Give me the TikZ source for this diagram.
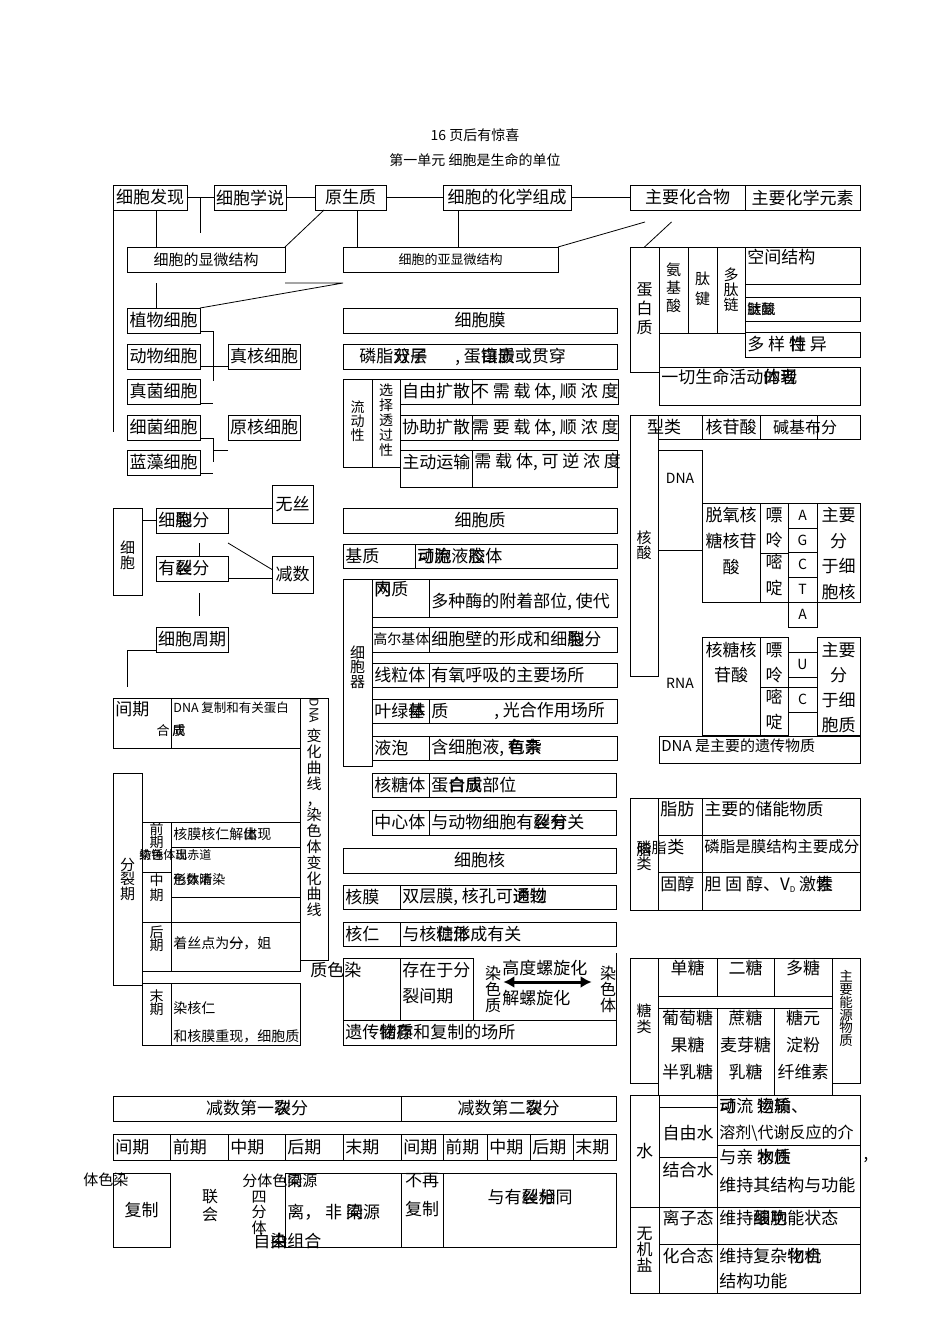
\documentclass[tikz,border=0pt]{standalone}
\usepackage{fontspec}
\setmainfont{Noto Sans CJK SC}
\usetikzlibrary{arrows.meta}
\newcommand\fsz[2]{\fontsize{#1}{#2}\selectfont}
\tikzset{
  box/.style 2 args={draw, line width=0.8pt, anchor=north west, minimum width=#1, minimum height=#2, inner sep=0pt, outer sep=0pt},
  txt/.style={inner sep=0pt, anchor=west},
  vstk/.style={inner sep=0pt, align=center},
}
\begin{document}
\begin{tikzpicture}
	[x=1pt, y=-1pt, font=\fsz{17}{20}, line width=0.8pt]
	\useasboundingbox (0,0) rectangle (950,1344);
	% title
	\node[font=\fsz{14}{14}] (ttl1) at (475,135) {16 页后有惊喜};
	\node[font=\fsz{14}{14}] (ttl2) at (475,160) {第一单元 细胞是生命的单位};
	% top row
	\node[box={74}{25}] (fxian) at (113,185) {细胞发现};
	\node[box={72}{25}] (xshuo) at (214,185) {细胞学说};
	\node[box={71}{25}] (ysz) at (315,185) {原生质};
	\node[box={128}{25}] (hxzc) at (443,185) {细胞的化学组成};
	\node[box={115}{25}] (zyhhw) at (630,185) {主要化合物};
	\node[box={115}{25}] (zyys) at (745,185) {主要化学元素};
	\draw (fxian.east) -- (xshuo.west);
	\draw (xshuo.east) -- (ysz.west);
	\draw (ysz.east) -- (hxzc.west);
	\draw (hxzc.east) -- (zyhhw.west);
	\draw (fxian.south west) -- ++(0,222);
	\draw ([xshift=-14pt]xshuo.west) -- ++(0,35);
	\node[box={158}{25}, font=\fsz{15}{15}] (xwjg) at (127,247) {细胞的显微结构};
	\node[box={215}{25}, font=\fsz{13}{13}] (yxwjg) at (343,247) {细胞的亚显微结构};
	\draw ([xshift=29pt]xwjg.north west) -- ([xshift=29pt]xwjg.north west |- fxian.south);
	\draw ([xshift=9pt]ysz.south west) -- (xwjg.north east);
	\draw ([xshift=14pt]yxwjg.north west) -- ([xshift=14pt]yxwjg.north west |- ysz.south);
	\draw ([xshift=15pt]hxzc.south west) -- ([xshift=15pt]hxzc.south west |- yxwjg.north);
	\draw (yxwjg.north east) -- ++(87,-25);
	% cells
	\node[box={73}{25}] (zwxb) at (127,308) {植物细胞};
	\node[box={73}{25}] (dwxb) at (127,344) {动物细胞};
	\node[box={73}{25}] (zjxb) at (127,379) {真菌细胞};
	\node[box={73}{25}] (xjxb) at (127,415) {细菌细胞};
	\node[box={73}{25}] (lzxb) at (127,450) {蓝藻细胞};
	\node[box={72}{25}] (zhxb) at (228,344) {真核细胞};
	\node[box={72}{25}] (yhxb) at (228,415) {原核细胞};
	\draw (xwjg.south east) ++(0,11) -- ++(58,0) -- (zwxb.north east);
	\draw ([xshift=29pt]zwxb.north west) -- ++(0,-25);
	\draw ([yshift=2pt]zwxb.south east) -- ++(13,0) -- ++(0,50);
	\draw ([yshift=3pt]zhxb.south west) -- ([yshift=3pt]zhxb.south west -| dwxb.east);
	\draw ([yshift=1pt]zjxb.south east) -- ++(13,0);
	\draw ([yshift=2pt]xjxb.south east) -- ++(13,0) -- ++(0,24);
	\draw ([yshift=-10pt]yhxb.south west) -- ++(-15,0);
	\draw ([yshift=2pt]lzxb.south east) -- ++(13,0);
	% cell membrane
	\node[box={274}{25}] (xbm) at (343,308) {细胞膜};
	\node[box={274}{25}] (lzsc) at (343,344) {};
	\node[txt] (lzsc-a) at (359,356.5) {磷脂\rlap{双}分\rlap{子}层};
	\node[txt] (lzsc-b) at (455,356.5) {, 蛋\rlap{白}镶\rlap{质}嵌或贯穿};
	\node[box={29}{88}] (ldx) at (343,379) {};
	\node[vstk, font=\fsz{14}{14}] (ldx-t) at (357.5,421.5) {流\\动\\性};
	\node[box={28}{88}] (xztg) at (372,379) {};
	\node[vstk, font=\fsz{14}{15}] (xztg-t) at (386,420) {选\\择\\透\\过\\性};
	\node[box={72}{25}] (zykz) at (400,379) {自由扩散};
	\node[box={145}{25}] (zykzd) at (472,379) {不 需 载 体, 顺 浓 度};
	\node[box={72}{25}] (xzkz) at (400,415) {协助扩散};
	\node[box={145}{25}] (xzkzd) at (472,415) {需 要 载 体, 顺 浓 度};
	\node[box={72}{37}] (zdys) at (400,450) {};
	\node[txt] (zdys-t) at (402,462) {主动运输};
	\node[box={145}{37}] (zdysd) at (472,450) {};
	\node[txt] (zdysd-t) at (474,462) {需 载 体, 可 逆 浓 度};
	% protein
	\node[box={29}{125}] (dbz) at (630,247) {};
	\draw (dbz.north) -- ++(27,-25);
	\node[vstk, font=\fsz{16}{19}] (dbz-t) at (644.5,309) {蛋\\白\\质};
	\node[box={29}{86}] (ajs) at (659,247) {};
	\node[vstk, font=\fsz{15}{18}] (ajs-t) at (673.5,288) {氨\\基\\酸};
	\node[box={29}{86}] (tj) at (688,247) {};
	\node[vstk, font=\fsz{15}{20}] (tj-t) at (702.5,289) {肽\\键};
	\node[box={28}{86}] (dtl) at (717,247) {};
	\node[vstk, font=\fsz{15}{15}] (dtl-t) at (731,290) {多\\肽\\链};
	\node[box={115}{37}] (kjjg) at (745,247) {};
	\node[txt] (kjjg-t) at (747,257) {空间结构};
	\node[box={115}{24}] (jgb) at (745,297) {};
	\node[txt, font=\fsz{14}{14}] (jgb-t) at (747,309) {\rlap{链}肽\rlap{氨}酸};
	\node[box={115}{25}] (dyx) at (745,332) {};
	\node[txt] (dyx-t) at (747,344.5) {多 样 \rlap{性}特 异};
	\node[box={201}{38}] (yqsm) at (659,367) {};
	\node[txt] (yqsm-t) at (661,377) {一切生命活动\rlap{的}体\rlap{现}者};
	% nucleic acid
	\node[box={28}{261}] (hs) at (630,415) {};
	\node[vstk, font=\fsz{15}{15}] (hs-t) at (644,545) {核\\酸};
	\node[box={44}{24}] (lx) at (658,415) {};
	\node (lx-t) at (664,427) {型类};
	\node[box={58}{24}] (hgs) at (702,415) {核苷酸};
	\node[box={57}{24}] (jj) at (760,415) {};
	\node[box={43}{24}] (fb) at (817,415) {};
	\node[font=\fsz{16}{16}] (jj-t) at (805,427) {碱基布分};
	\node[box={44}{100}] (dna) at (658,450) {};
	\node[font=\fsz{14}{14}] (dna-t) at (680,478) {DNA};
	\node[box={58}{99}] (tyhgs) at (702,503) {};
	\node[vstk, font=\fsz{17}{26}] (tyhgs-t) at (731,541) {脱氧核\\糖核苷\\酸};
	\node[box={28}{50}] (pl1) at (760,503) {};
	\node[vstk, font=\fsz{17}{25}] (pl1-t) at (774,527.5) {嘌\\呤};
	\node[box={28}{49}] (md1) at (760,553) {};
	\node[vstk, font=\fsz{17}{26}] (md1-t) at (774,575) {嘧\\啶};
	\node[box={29}{25}, font=\fsz{14}{14}] (ba1) at (788,503) {A};
	\node[box={29}{24}, font=\fsz{14}{14}] (bg1) at (788,528) {G};
	\node[box={29}{25}, font=\fsz{14}{14}] (bc1) at (788,552) {C};
	\node[box={29}{25}, font=\fsz{14}{14}] (bt1) at (788,577) {T};
	\node[box={29}{25}, font=\fsz{14}{14}] (ba2) at (788,602) {A};
	\node[box={43}{99}] (fbh) at (817,503) {};
	\node[vstk, font=\fsz{17}{25.7}] (fbh-t) at (838.5,553.5) {主要\\分\\于细\\胞核};
	\node[font=\fsz{14}{14}] (rna-t) at (680,683) {RNA};
	\node[box={58}{98}] (htgs) at (702,637) {};
	\node[vstk, font=\fsz{17}{25}] (htgs-t) at (731,662.5) {核糖核\\苷酸};
	\node[box={28}{50}] (pl2) at (760,637) {};
	\node[vstk, font=\fsz{17}{25}] (pl2-t) at (774,662.5) {嘌\\呤};
	\node[box={28}{48}] (md2) at (760,687) {};
	\node[vstk, font=\fsz{17}{25}] (md2-t) at (774,709.5) {嘧\\啶};
	\node[box={29}{25}, font=\fsz{14}{14}] (bu) at (788,652) {U};
	\node[box={29}{25}, font=\fsz{14}{14}] (bc2) at (788,687) {C};
	\node[box={43}{98}] (fbz) at (817,637) {};
	\node[vstk, font=\fsz{17}{25}] (fbz-t) at (838.5,687.5) {主要\\分\\于细\\胞质};
	\node[box={201}{27}] (ycwz) at (659,736) {};
	\node[txt, font=\fsz{15}{15}] (ycwz-t) at (661,746) {DNA 是主要的遗传物质};
	% cell division
	\node[box={29}{87}] (xb) at (113,508) {};
	\node[vstk, font=\fsz{15}{15}] (xb-t) at (127.5,555) {细\\胞};
	\node[box={72}{25}] (xbfl) at (156,508) {};
	\node[txt] (xbfl-t) at (158,520.5) {细\rlap{裂}胞分};
	\node[box={41}{38}] (wusi) at (272,485) {无丝};
	\node[box={72}{25}] (ysfl) at (156,556) {};
	\node[txt] (ysfl-t) at (158,568.5) {有\rlap{裂}丝分};
	\node[box={41}{37}] (jianshu) at (272,556) {减数};
	\node[box={72}{25}] (xbzq) at (156,627) {细胞周期};
	\draw (xbfl.west) -- (xbfl.west -| xb.east);
	\draw (xbfl.north east) -- (xbfl.north east -| wusi.west);
	\draw ([yshift=-10pt]xbfl.south east) -- ([yshift=5pt]jianshu.west);
	\draw ([xshift=43pt]ysfl.north west) -- ++(0,-13);
	\draw ([yshift=3pt]ysfl.south east) -- ([yshift=3pt]ysfl.south east -| jianshu.west);
	\draw ([xshift=43pt,yshift=-12pt]ysfl.south west) -- ++(0,23);
	\draw ([yshift=2pt]xbzq.south west) -| ++(-29,37);
	% cell cycle table
	\node[box={58}{50}] (jq) at (113,698) {};
	\node[txt] (jq-t) at (115,709) {间期};
	\node[txt, anchor=east, font=\fsz{13}{13}] (jq-h) at (170,731) {合};
	\node[box={129}{50}] (jqd) at (171,698) {};
	\node[txt, font=\fsz{12.5}{13}] (jqd-t) at (173,708) {DNA 复制和有关蛋白};
	\node[txt, font=\fsz{13}{13}] (jqd-c) at (172,731) {\rlap{质}成};
	\node[box={28}{262}] (qx) at (300,698) {};
	\node[rotate=-90, font=\fsz{12}{12}, inner sep=0pt] (qx-dna) at (314,711) {DNA};
	\node[vstk, font=\fsz{15}{15.8}] (qx-t) at (314,823) {变\\化\\曲\\线\\，\\染\\色\\体\\变\\化\\曲\\线};
	\node[box={29}{212}] (flq) at (113,773) {};
	\node[vstk, font=\fsz{15}{14.5}] (flq-t) at (127.5,879) {分\\裂\\期};
	\node[box={29}{50}] (qianq) at (142,822) {};
	\node[vstk, font=\fsz{14}{13}] (qianq-t) at (156.5,836) {前\\期};
	\node[box={129}{25}] (r1) at (171,822) {};
	\node[txt, font=\fsz{14}{14}] (r1-t) at (173,834) {核膜核仁解\rlap{体}出现};
	\node[box={129}{50}] (r2) at (171,847) {};
	\node[txt, font=\fsz{12}{12}] (r2-a) at (139,855) {\rlap{纺锤}染色体\rlap{出}现赤道};
	\node[txt, font=\fsz{13}{13}] (r2-b) at (173,880) {\rlap{形}色\rlap{数}体\rlap{晰}清染};
	\node[box={29}{50}] (zhongq) at (142,872) {};
	\node[vstk, font=\fsz{14}{15}] (zhongq-t) at (156.5,887.5) {中\\期};
	\node[box={129}{25}] (r3) at (171,897) {};
	\node[box={29}{49}] (houq) at (142,922) {};
	\node[vstk, font=\fsz{14}{13}] (houq-t) at (156.5,938.5) {后\\期};
	\node[box={129}{49}] (r4) at (171,922) {};
	\node[txt, font=\fsz{14}{14}] (r4-t) at (173,943) {着丝点为\rlap{一}分，姐};
	\node[box={29}{62}] (moq) at (142,983) {};
	\node[vstk, font=\fsz{14}{13}] (moq-t) at (156.5,1002.5) {末\\期};
	\node[box={129}{62}] (r5) at (171,983) {};
	\node[txt, font=\fsz{14}{14}] (r5-a) at (173,1008) {染核仁};
	\node[txt, font=\fsz{14}{14}] (r5-b) at (173,1036) {和核膜重现，细胞质};
	% cytoplasm
	\node[box={274}{25}] (xbzhi) at (343,508) {细胞质};
	\node[box={72}{24}] (jz) at (343,544) {};
	\node[txt] (jz-t) at (345,556) {基质};
	\node[box={202}{24}] (jzd) at (415,544) {};
	\node[txt] (jzd-t) at (417,556) {\rlap{可}动\rlap{流}胞液\rlap{胶}态体};
	\node[box={29}{187}] (xbq) at (343,579) {};
	\node[vstk, font=\fsz{15}{14.5}] (xbq-t) at (357.5,667) {细\\胞\\器};
	\node[box={57}{38}] (nzw) at (372,579) {};
	\node[txt] (nzw-t) at (374,589) {\rlap{内}网质};
	\node[box={188}{38}] (nzwd) at (429,579) {};
	\node[txt] (nzwd-t) at (431,602) {多种酶的附着部位, 使代};
	\node[box={57}{25}] (gej) at (372,627) {};
	\node[txt, font=\fsz{14}{14}] (gej-t) at (373,639.5) {高尔基体};
	\node[box={188}{25}] (gejd) at (429,627) {};
	\node[txt] (gejd-t) at (431,639.5) {细胞壁的形成和细\rlap{裂}胞分};
	\node[box={57}{24}] (xlt) at (372,663) {};
	\node[txt] (xlt-t) at (374,675) {线粒体};
	\node[box={188}{24}] (xltd) at (429,663) {};
	\node[txt] (xltd-t) at (431,675) {有氧呼吸的主要场所};
	\node[box={57}{24}] (ylt) at (372,699) {};
	\node[txt] (ylt-t) at (374,711) {叶绿\rlap{体}基};
	\node[box={188}{24}] (yltd) at (429,699) {};
	\node[txt] (yltd-a) at (431,711) {质};
	\node[txt] (yltd-b) at (494,711) {, 光合作用场所};
	\node[box={57}{24}] (yp) at (372,736) {};
	\node[txt] (yp-t) at (374,748) {液泡};
	\node[box={188}{24}] (ypd) at (429,736) {};
	\node[txt] (ypd-t) at (431,748) {含细胞液, \rlap{有}色\rlap{素}杂};
	\node[box={57}{24}] (hrt) at (372,773) {};
	\node[txt] (hrt-t) at (374,785) {核糖体};
	\node[box={187}{24}] (hrtd) at (429,773) {};
	\node[txt] (hrtd-t) at (431,785) {蛋\rlap{白}合\rlap{质}成部位};
	\node[box={57}{25}] (zxt) at (372,810) {};
	\node[txt] (zxt-t) at (374,822.5) {中心体};
	\node[box={187}{25}] (zxtd) at (429,810) {};
	\node[txt] (zxtd-t) at (431,822.5) {与动物细胞有\rlap{丝}裂\rlap{分}有关};
	% nucleus
	\node[box={273}{25}] (xbhe) at (343,848) {细胞核};
	\node[box={57}{24}] (hm) at (343,885) {};
	\node[txt] (hm-t) at (345,897) {核膜};
	\node[box={216}{24}] (hmd) at (400,885) {};
	\node[txt] (hmd-t) at (402,897) {双层膜, 核孔可\rlap{通}透\rlap{物}过};
	\node[box={57}{24}] (hr) at (343,922) {};
	\node[txt] (hr-t) at (345,934) {核仁};
	\node[box={216}{24}] (hrd) at (400,922) {};
	\node[txt] (hrd-t) at (402,934) {与核\rlap{仁}糖\rlap{体}形成有关};
	\node[box={57}{62}] (rsz) at (343,958) {};
	\node[txt] (rsz-t) at (344,970) {\llap{质色}染};
	\node[box={73}{62}] (czy) at (400,958) {};
	\node[txt] (czy-a) at (402,970) {存在于分};
	\node[txt] (czy-b) at (402,996) {裂间期};
	\node[vstk, font=\fsz{16}{16}] (rszv) at (493,989) {染\\色\\质};
	\node[vstk, font=\fsz{16}{16}] (rstv) at (608,989) {染\\色\\体};
	\draw[{Latex[length=11pt,width=12pt]}-{Latex[length=11pt,width=12pt]}, line width=3pt] ([xshift=2pt,yshift=7pt]rszv.east) -- ([xshift=-8pt,yshift=7pt]rstv.west);
	\node[txt] (lxh-a) at (502,968) {高度螺旋化};
	\node[txt] (lxh-b) at (502,998) {解螺旋化};
	\node[box={273}{25}] (ycw) at (343,1020) {};
	\node[txt] (ycw-t) at (345,1032.5) {遗传\rlap{物}储\rlap{质}存和复制的场所};
	\draw (ycw.north east) -- ++(0,-67);
	% lipids
	\node[box={28}{112}] (zl) at (630,798) {};
	\node[vstk, font=\fsz{15}{14}] (zl-t) at (644,857) {脂\\类};
	\node[box={44}{37}] (zf) at (658,798) {};
	\node[txt] (zf-t) at (660,809) {脂肪};
	\node[box={158}{37}] (zfd) at (702,798) {};
	\node[txt] (zfd-t) at (704,809) {主要的储能物质};
	\node[box={44}{37}] (lz) at (658,835) {};
	\node[txt, anchor=east, font=\fsz{15}{15}] (lz-a) at (667,848) {磷脂};
	\node[txt] (lz-t) at (667,847) {类};
	\node[box={158}{37}] (lzd) at (702,835) {};
	\node[txt, font=\fsz{15.5}{15.5}] (lzd-t) at (704,847) {磷脂是膜结构主要成分};
	\node[box={44}{38}] (gc) at (658,872) {};
	\node[txt] (gc-t) at (660,884) {固醇};
	\node[box={158}{38}] (gcd) at (702,872) {};
	\node[txt] (gcd-t) at (704,884) {胆 固 醇、V\raisebox{-2pt}{\fsz{8}{8}D} 激\rlap{性}素};
	% sugars
	\node[box={28}{125}] (tl) at (630,958) {};
	\node[vstk, font=\fsz{15}{16}] (tl-t) at (644,1018.5) {糖\\类};
	\node[box={59}{38}] (dant) at (658,958) {};
	\node (dant-t) at (687.5,968) {单糖};
	\node[box={57}{38}] (ert) at (717,958) {};
	\node (ert-t) at (745.5,968) {二糖};
	\node[box={58}{38}] (duot) at (774,958) {};
	\node (duot-t) at (803,968) {多糖};
	\node[box={28}{125}] (zyny) at (832,958) {};
	\node[vstk, font=\fsz{13.5}{12.8}] (zyny-t) at (846,1008.5) {主\\要\\能\\源\\物\\质};
	\node[box={174}{12}] (tkong) at (658,996) {};
	\node[box={59}{87}] (ptt) at (658,1008) {};
	\node[vstk, font=\fsz{17}{27}] (ptt-t) at (687.5,1045) {葡萄糖\\果糖\\半乳糖};
	\node[box={57}{87}] (zht) at (717,1008) {};
	\node[vstk, font=\fsz{17}{27}] (zht-t) at (745.5,1045) {蔗糖\\麦芽糖\\乳糖};
	\node[box={58}{87}] (tyy) at (774,1008) {};
	\node[vstk, font=\fsz{17}{27}] (tyy-t) at (803,1045) {糖元\\淀粉\\纤维素};
	% water and salts
	\node[box={29}{112}] (shui) at (630,1095) {水};
	\node[box={58}{12}] (skong) at (659,1095) {};
	\node[box={58}{50}] (zys) at (659,1107) {};
	\node (zys-t) at (688,1133) {自由水};
	\node[box={58}{50}] (jhs) at (659,1157) {};
	\node (jhs-t) at (688,1170) {结合水};
	\node[box={143}{50}] (zysd) at (717,1095) {};
	\node[txt] (zysd-a) at (719,1106) {\rlap{可}动流 \rlap{物}运\rlap{质}输、};
	\node[txt, font=\fsz{16}{16}] (zysd-b) at (719,1133) {溶剂\textbackslash 代谢反应的介};
	\node[box={143}{62}] (jhsd) at (717,1145) {};
	\node[txt] (jhsd-a) at (719,1157) {与亲 \rlap{水}物\rlap{性}质};
	\node (jhsd-c) at (866,1160) {,};
	\node[txt] (jhsd-b) at (719,1185) {维持其结构与功能};
	\node[box={29}{86}] (wjy) at (630,1207) {};
	\node[vstk, font=\fsz{16}{16}] (wjy-t) at (644.5,1250) {无\\机\\盐};
	\node[box={58}{37}] (lzt) at (659,1207) {};
	\node (lzt-t) at (688,1218) {离子态};
	\node[box={143}{37}] (lztd) at (717,1207) {};
	\node[txt] (lztd-t) at (719,1218) {维持\rlap{细}酸\rlap{胞}功能状态};
	\node[box={58}{49}] (hht) at (659,1244) {};
	\node (hht-t) at (688,1256) {化合态};
	\node[box={143}{49}] (hhtd) at (717,1244) {};
	\node[txt] (hhtd-a) at (719,1256) {维持复杂\rlap{化}物\rlap{合}机};
	\node[txt] (hhtd-b) at (719,1281) {结构功能};
	% meiosis
	\node[box={288}{25}] (js1) at (113,1096) {减数第一\rlap{次}裂分};
	\node[box={215}{25}] (js2) at (401,1096) {减数第二\rlap{次}裂分};
	\node[box={57.5}{26}] (m1) at (113,1134) {};
	\node[txt] (m1-t) at (115,1147) {间期};
	\node[box={57.5}{26}] (m2) at (170.5,1134) {};
	\node[txt] (m2-t) at (172.5,1147) {前期};
	\node[box={57}{26}] (m3) at (228,1134) {};
	\node[txt] (m3-t) at (230,1147) {中期};
	\node[box={58}{26}] (m4) at (285,1134) {};
	\node[txt] (m4-t) at (287,1147) {后期};
	\node[box={58}{26}] (m5) at (343,1134) {};
	\node[txt] (m5-t) at (345,1147) {末期};
	\node[box={42}{26}] (m6) at (401,1134) {};
	\node[txt] (m6-t) at (403,1147) {间期};
	\node[box={44}{26}] (m7) at (443,1134) {};
	\node[txt] (m7-t) at (445,1147) {前期};
	\node[box={43}{26}] (m8) at (487,1134) {};
	\node[txt] (m8-t) at (489,1147) {中期};
	\node[box={43}{26}] (m9) at (530,1134) {};
	\node[txt] (m9-t) at (532,1147) {后期};
	\node[box={43}{26}] (m10) at (573,1134) {};
	\node[txt] (m10-t) at (575,1147) {末期};
	\node[box={57}{74}] (fzhi) at (113,1173) {复制};
	\node[txt, font=\fsz{15}{15}] (fzhi-t) at (113,1180) {\llap{体色}染};
	\node[vstk, font=\fsz{16}{18}] (lh-t) at (210,1206) {联\\会};
	\node[vstk, font=\fsz{15}{15.5}] (sft-t) at (259,1212.5) {四\\分\\体};
	\node[box={116}{74}] (tyfl) at (285,1173) {};
	\node[txt, font=\fsz{15}{15}] (tyfl-a) at (287,1181) {\llap{分体色}\rlap{同}染源};
	\node[txt] (tyfl-b) at (287,1212) {离， 非 \rlap{同}染源};
	\node[txt] (tyfl-c) at (287,1241) {\llap{自\rlap{由}染}组合};
	\node[box={42}{74}] (bzfz) at (401,1173) {};
	\node[vstk, font=\fsz{17}{29}] (bzfz-t) at (422,1195.5) {不再\\复制};
	\node[box={173}{74}] (ysxt) at (443,1173) {};
	\node (ysxt-t) at (530,1197) {与有\rlap{丝}裂\rlap{分}相同};
\end{tikzpicture}
\end{document}
